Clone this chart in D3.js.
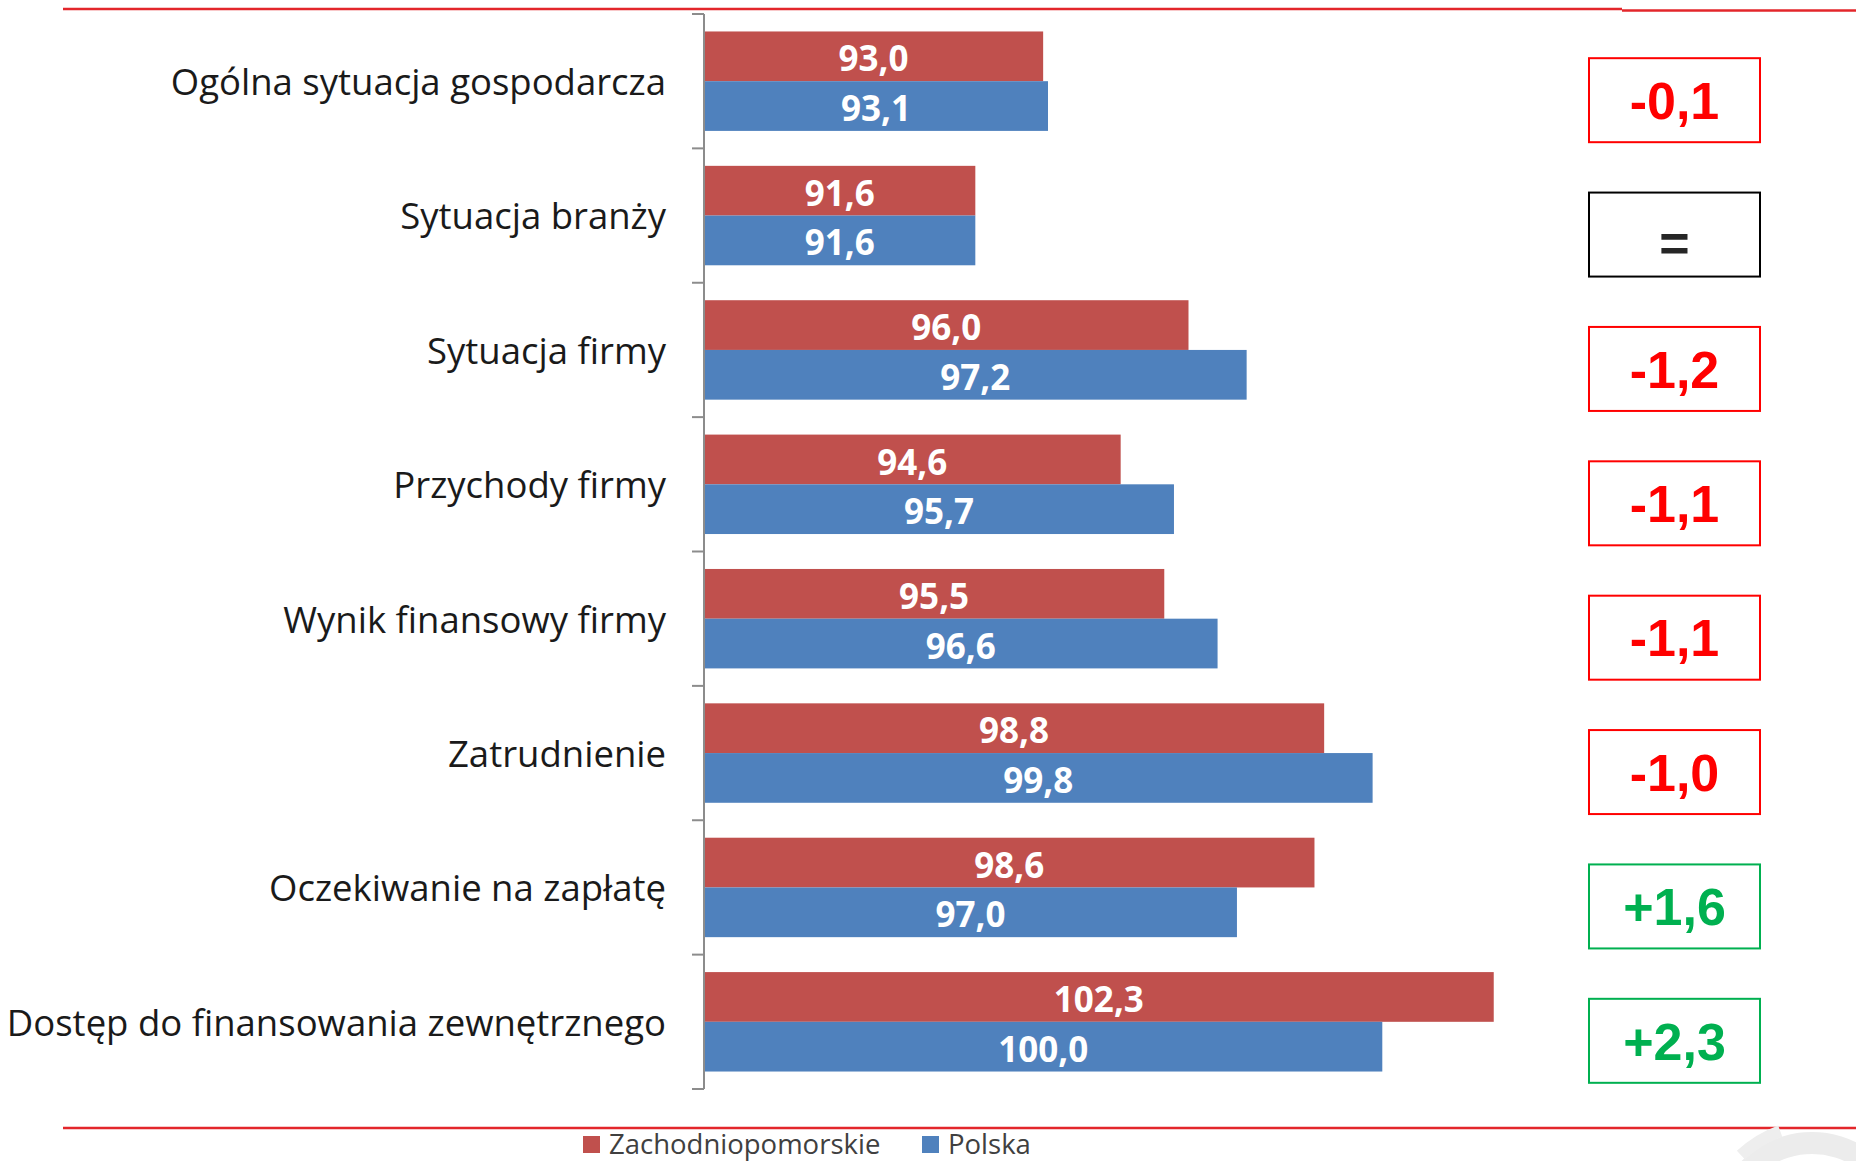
<!DOCTYPE html>
<html>
<head>
<meta charset="utf-8">
<script src="https://cdn.jsdelivr.net/npm/d3@7"></script>
<style>
  html, body { margin: 0; padding: 0; background: #fff; }
  svg { display: block; }
</style>
</head>
<body>
<svg id="chart" width="1856" height="1161"></svg>
<script>
const categories = [
  "Ogólna sytuacja gospodarcza",
  "Sytuacja branży",
  "Sytuacja firmy",
  "Przychody firmy",
  "Wynik finansowy firmy",
  "Zatrudnienie",
  "Oczekiwanie na zapłatę",
  "Dostęp do finansowania zewnętrznego"
];
const seriesNames = ["Zachodniopomorskie", "Polska"];
const zachodniopomorskie = [93.0, 91.6, 96.0, 94.6, 95.5, 98.8, 98.6, 102.3];
const polska = [93.1, 91.6, 97.2, 95.7, 96.6, 99.8, 97.0, 100.0];
const diffLabels = ["-0,1", "=", "-1,2", "-1,1", "-1,1", "-1,0", "+1,6", "+2,3"];
const diffSign = [-1, 0, -1, -1, -1, -1, 1, 1];

const colors = { "Zachodniopomorskie": "#c0504d", "Polska": "#4f81bd" };
const signColor = { "-1": "#ff0000", "0": "#000000", "1": "#00b050" };
const signText = { "-1": "#ff0000", "0": "#262626", "1": "#00b050" };

const svg = d3.select("#chart");
const fmt = v => v.toFixed(1).replace(".", ",");

const x = d3.scaleLinear().domain([86, 110]).range([704, 704 + 24 * 48.45]);
const y = d3.scaleBand().domain(categories).range([14, 1089]).paddingInner(0.26).paddingOuter(0.13);
const ySub = d3.scaleBand().domain(seriesNames).range([0, y.bandwidth()]).padding(0);

// decorative red rules
svg.append("line").attr("x1", 63).attr("x2", 1622).attr("y1", 9).attr("y2", 9)
  .attr("stroke", "#e3262b").attr("stroke-width", 2.5);
svg.append("line").attr("x1", 1622).attr("x2", 1856).attr("y1", 10.5).attr("y2", 10.5)
  .attr("stroke", "#e3262b").attr("stroke-width", 2.5);
svg.append("line").attr("x1", 63).attr("x2", 1856).attr("y1", 1128).attr("y2", 1128)
  .attr("stroke", "#e3262b").attr("stroke-width", 2.5);

// faint watermark
svg.append("path")
  .attr("d", d3.arc()({ innerRadius: 78, outerRadius: 100, startAngle: -1.2, endAngle: 1.2 }))
  .attr("transform", "translate(1812,1232)")
  .attr("fill", "#ececec");
svg.append("path")
  .attr("d", d3.arc()({ innerRadius: 110, outerRadius: 122, startAngle: -0.75, endAngle: -0.35 }))
  .attr("transform", "translate(1820,1240)")
  .attr("fill", "#eeeeee");

// bars
const rows = categories.map((c, i) => ({
  cat: c,
  vals: [
    { s: "Zachodniopomorskie", v: zachodniopomorskie[i] },
    { s: "Polska", v: polska[i] }
  ]
}));

const g = svg.append("g");
const rowG = g.selectAll("g.row").data(rows).join("g")
  .attr("class", "row")
  .attr("transform", d => `translate(0,${y(d.cat)})`);

rowG.selectAll("rect").data(d => d.vals).join("rect")
  .attr("x", x(86))
  .attr("y", d => ySub(d.s))
  .attr("width", d => x(d.v) - x(86))
  .attr("height", ySub.bandwidth())
  .attr("fill", d => colors[d.s]);

rowG.selectAll("text.val").data(d => d.vals).join("text")
  .attr("class", "val")
  .attr("x", d => (x(86) + x(d.v)) / 2)
  .attr("y", d => ySub(d.s) + ySub.bandwidth() / 2)
  .attr("dy", "0.43em")
  .attr("text-anchor", "middle")
  .attr("font-family", "'Open Sans', sans-serif")
  .attr("font-weight", "bold")
  .attr("font-size", 35)
  .attr("fill", "#ffffff")
  .text(d => fmt(d.v));

// category axis
const axisG = svg.append("g").attr("transform", `translate(${x(86)},0)`);
const boundaries = categories.map(c => y(c) - y.step() * y.paddingInner() / 2);
boundaries.push(y(categories[categories.length - 1]) + y.bandwidth() + y.step() * y.paddingInner() / 2);
axisG.append("line").attr("x1", 0).attr("x2", 0)
  .attr("y1", boundaries[0]).attr("y2", boundaries[boundaries.length - 1])
  .attr("stroke", "#8c8c8c").attr("stroke-width", 2);
axisG.selectAll("line.tick").data(boundaries).join("line")
  .attr("class", "tick")
  .attr("x1", -12).attr("x2", 0)
  .attr("y1", d => d).attr("y2", d => d)
  .attr("stroke", "#8c8c8c").attr("stroke-width", 2);

svg.append("g").selectAll("text").data(categories).join("text")
  .attr("x", 666)
  .attr("y", d => y(d) + y.bandwidth() / 2)
  .attr("dy", "0.38em")
  .attr("text-anchor", "end")
  .attr("font-family", "'Open Sans', sans-serif")
  .attr("font-size", 36.5)
  .attr("fill", "#1a1a1a")
  .text(d => d);

// difference boxes
const boxW = 171, boxH = 84, boxX = 1589, boxOffset = 19;
const boxG = svg.append("g").selectAll("g").data(categories).join("g")
  .attr("transform", (d, i) => `translate(${boxX},${y(d) + y.bandwidth() / 2 + boxOffset - boxH / 2})`);
boxG.append("rect")
  .attr("width", boxW).attr("height", boxH)
  .attr("fill", "#ffffff")
  .attr("stroke", (d, i) => signColor[diffSign[i]])
  .attr("stroke-width", 2);
boxG.append("text")
  .attr("x", boxW / 2).attr("y", boxH / 2)
  .attr("dy", (d, i) => diffSign[i] === 0 ? "0.5em" : "0.36em")
  .attr("text-anchor", "middle")
  .attr("font-family", "'Liberation Sans', Arial, sans-serif")
  .attr("font-weight", "bold")
  .attr("font-size", 52)
  .attr("fill", (d, i) => signText[diffSign[i]])
  .text((d, i) => diffLabels[i]);

// legend
const legend = svg.append("g");
const legendItems = [
  { s: "Zachodniopomorskie", x: 583 },
  { s: "Polska", x: 922 }
];
legendItems.forEach(it => {
  legend.append("rect").attr("x", it.x).attr("y", 1136).attr("width", 17).attr("height", 17)
    .attr("fill", colors[it.s]);
  legend.append("text").attr("x", it.x + 26).attr("y", 1144).attr("dy", "0.36em")
    .attr("font-family", "'Open Sans', sans-serif").attr("font-size", 27.5)
    .attr("fill", "#404040").text(it.s);
});
</script>
</body>
</html>
